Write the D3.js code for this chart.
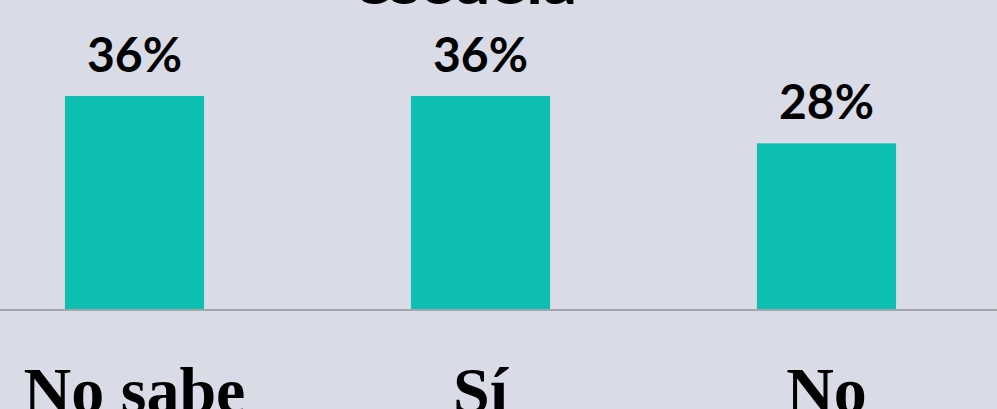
<!DOCTYPE html>
<html>
<head>
<meta charset="utf-8">
<script src="https://cdn.jsdelivr.net/npm/d3@7"></script>
<style>
  html, body { margin: 0; padding: 0; background: #d9dce6; }
  svg { display: block; }
</style>
</head>
<body>
<div id="chart"></div>
<script>
// datos de la encuesta
var categories = ["No sabe", "Sí", "No"];
var values = [36, 36, 28];
var titleLine = "escuela";

var width = 997, height = 409;
var baseY = 309;

var svg = d3.select("#chart").append("svg")
    .attr("width", width)
    .attr("height", height);

svg.append("rect")
    .attr("width", width)
    .attr("height", height)
    .attr("fill", "#d9dce6");

var x = d3.scaleBand()
    .domain(categories)
    .range([-38.5, 999.5])
    .paddingInner(0.598)
    .paddingOuter(0.299);

var y = d3.scaleLinear()
    .domain([0, 36])
    .range([baseY, 96]);

// titulo (cortado arriba)
svg.append("text")
    .attr("x", 466)
    .attr("y", 4)
    .attr("text-anchor", "middle")
    .attr("font-family", "Lato, sans-serif")
    .attr("font-weight", "bold")
    .attr("font-size", 56)
    .attr("textLength", 222)
    .attr("lengthAdjust", "spacingAndGlyphs")
    .attr("fill", "#000")
    .text(titleLine);

svg.selectAll(".bar")
    .data(values)
    .enter()
    .append("rect")
    .attr("class", "bar")
    .attr("x", function (d, i) { return x(categories[i]); })
    .attr("y", function (d) { return y(d); })
    .attr("width", x.bandwidth())
    .attr("height", function (d) { return baseY - y(d); })
    .attr("fill", "#0dbfb1");

svg.selectAll(".val")
    .data(values)
    .enter()
    .append("text")
    .attr("class", "val")
    .attr("x", function (d, i) { return x(categories[i]) + x.bandwidth() / 2; })
    .attr("y", function (d) { return y(d) - 24; })
    .attr("text-anchor", "middle")
    .attr("font-family", "Lato, sans-serif")
    .attr("font-weight", "bold")
    .attr("font-size", 48)
    .attr("fill", "#000")
    .text(function (d) { return d + "%"; });

// linea base
svg.append("line")
    .attr("x1", 0)
    .attr("x2", width)
    .attr("y1", baseY + 1)
    .attr("y2", baseY + 1)
    .attr("stroke", "#a3a5ab")
    .attr("stroke-width", 2);

svg.selectAll(".cat")
    .data(categories)
    .enter()
    .append("text")
    .attr("class", "cat")
    .attr("x", function (d) { return x(d) + x.bandwidth() / 2; })
    .attr("y", 413)
    .attr("text-anchor", "middle")
    .attr("font-family", "Liberation Serif, serif")
    .attr("font-weight", "bold")
    .attr("font-size", 66)
    .attr("fill", "#000")
    .text(function (d) { return d; });
</script>
</body>
</html>
